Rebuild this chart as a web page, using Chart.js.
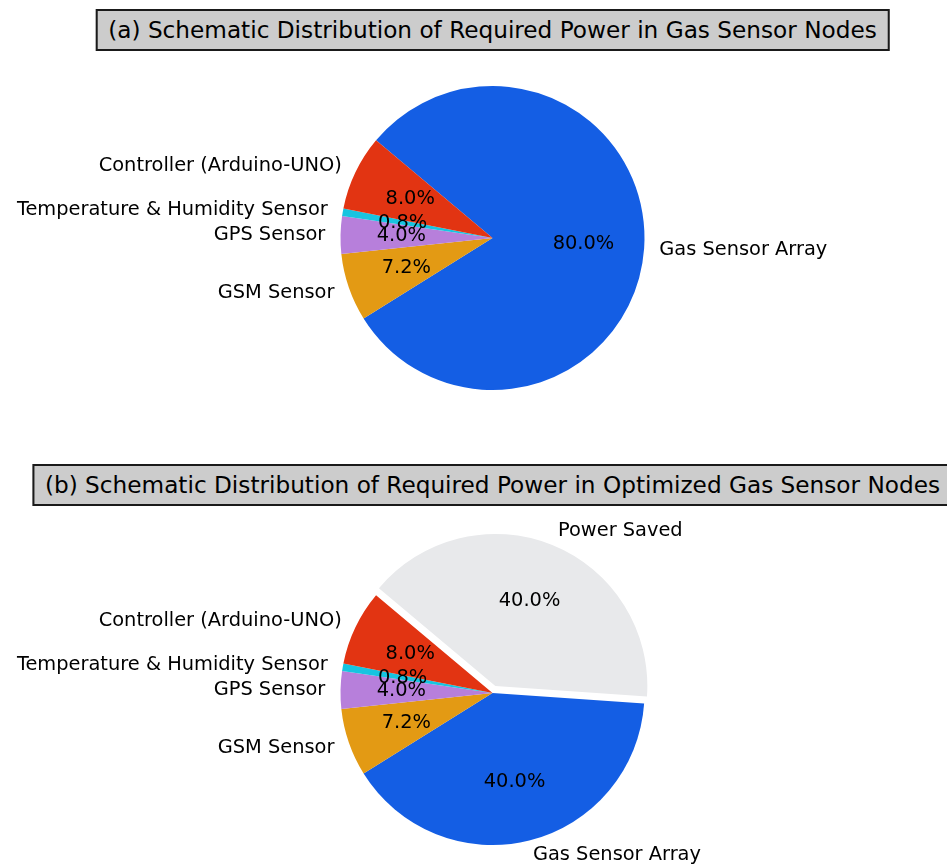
<!DOCTYPE html>
<html>
<head>
<meta charset="utf-8">
<script src="https://cdn.jsdelivr.net/npm/chart.js@4.4.0/dist/chart.umd.min.js"></script>
<style>
    body { margin: 0; background: #ffffff; width: 947px; height: 865px; overflow: hidden; position: relative; font-family: 'DejaVu Sans', sans-serif; }
    .title_box {
        position: absolute;
        left: 492.5px;
        transform: translateX(-50%);
        white-space: nowrap;
        background: #cccccc;
        border: 2px solid #1a1a1a;
        padding: 0 11px;
        font-size: 23.2px;
        line-height: 38px;
        color: #000000;
        z-index: 2;
    }
    canvas { position: absolute; left: 0; }
</style>
</head>
<body>
<div class="title_box" id="title_a" style="top:9px;"></div>
<div class="title_box" id="title_b" style="top:464px;"></div>
<canvas id="pie_a" width="947" height="460" style="top:0px;"></canvas>
<canvas id="pie_b" width="947" height="355" style="top:510px;"></canvas>
<script>
// titles
const title_a = "(a) Schematic Distribution of Required Power in Gas Sensor Nodes";
const title_b = "(b) Schematic Distribution of Required Power in Optimized Gas Sensor Nodes";

// slices are listed clockwise, starting from the top-left edge of the pie
const labels_a = ["Gas Sensor Array", "GSM Sensor", "GPS Sensor", "Temperature & Humidity Sensor", "Controller (Arduino-UNO)"];
const values_a = [80.0, 7.2, 4.0, 0.8, 8.0];
const colors_a = ["#145ee4", "#e39a14", "#b77fdb", "#17c4e0", "#e23412"];

const labels_b = ["Power Saved", "Gas Sensor Array", "GSM Sensor", "GPS Sensor", "Temperature & Humidity Sensor", "Controller (Arduino-UNO)"];
const values_b = [40.0, 40.0, 7.2, 4.0, 0.8, 8.0];
const colors_b = ["#e8e9eb", "#145ee4", "#e39a14", "#b77fdb", "#17c4e0", "#e23412"];
const explode_b = [0.05, 0, 0, 0, 0, 0];

const PIE_RADIUS = 152;
const FONT = "19.4px 'DejaVu Sans'";

document.getElementById('title_a').textContent = title_a;
document.getElementById('title_b').textContent = title_b;

// draws the wedge labels (outside, 1.1 r) and the percentages (inside, 0.6 r)
// the way matplotlib's pie() places them, using the arc geometry from chart.js
const pieTextPlugin = {
    id: 'pieText',
    afterDatasetsDraw(chart){
        const ctx = chart.ctx;
        const meta = chart.getDatasetMeta(0);
        const ds = chart.data.datasets[0];
        const explode = ds.explode || [];
        let total = ds.data.reduce((a, b) => a + b, 0);
        ctx.save();
        ctx.font = FONT;
        ctx.fillStyle = "#000000";
        ctx.textBaseline = "middle";
        meta.data.forEach(function(arc, i){
            let mid = (arc.startAngle + arc.endAngle) / 2;
            let r = arc.outerRadius;
            let ex = (explode[i] || 0);
            let cx = Math.cos(mid), cy = Math.sin(mid);
            // label
            let lx = arc.x + cx * r * (1.1 + ex);
            let ly = arc.y + cy * r * (1.1 + ex);
            ctx.textAlign = (cx > 0) ? "left" : "right";
            ctx.fillText(chart.data.labels[i], lx, ly);
            // percentage
            let px = arc.x + cx * r * (0.6 + ex);
            let py = arc.y + cy * r * (0.6 + ex);
            ctx.textAlign = "center";
            ctx.fillText((ds.data[i] / total * 100).toFixed(1) + "%", px, py);
        });
        ctx.restore();
    }
};

// exploded wedges: shift the arc outwards without growing it
// (chart.js's own "offset" also enlarges the radius)
function apply_explode(chart){
    const meta = chart.getDatasetMeta(0);
    const explode = chart.data.datasets[0].explode || [];
    meta.data.forEach(function(arc, i){
        let ex = explode[i] || 0;
        if(ex > 0){
            arc.draw = function(ctx){
                let mid = (this.startAngle + this.endAngle) / 2;
                let d = ex * this.outerRadius;
                ctx.save();
                ctx.translate(Math.cos(mid) * d, Math.sin(mid) * d);
                Chart.ArcElement.prototype.draw.call(this, ctx);
                ctx.restore();
            };
        }
    });
}

function make_pie(canvas_name, labels, values, colors, explode, padding){
    const chart_canvas = document.getElementById(canvas_name);
    let chart = new Chart(chart_canvas, {
        type: 'pie',
        data: {
            labels: labels,
            datasets: [{
                data: values,
                backgroundColor: colors,
                borderWidth: 0,
                explode: explode
            }]
        },
        options: {
            responsive: false,
            animation: false,
            rotation: -50,
            radius: PIE_RADIUS,
            layout: { padding: padding },
            plugins: {
                legend: { display: false },
                tooltip: { enabled: false }
            },
            events: []
        },
        plugins: [{ id: 'explode', beforeDatasetsDraw: apply_explode }, pieTextPlugin]
    });
    return chart;
}

make_pie('pie_a', labels_a, values_a, colors_a, null, { left: 38, top: 16 });
make_pie('pie_b', labels_b, values_b, colors_b, explode_b, { left: 38, top: 11 });
</script>
</body>
</html>
